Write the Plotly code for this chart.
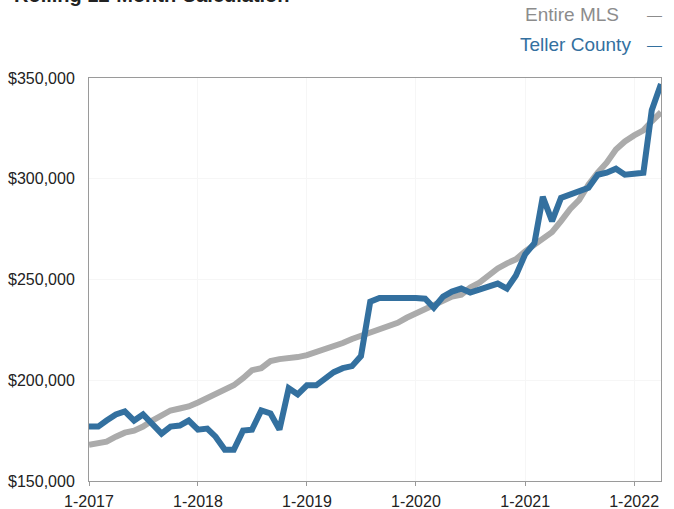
import pandas as pd
import plotly.graph_objects as go

# Monthly observation dates, Jan 2017 through Apr 2022
months = pd.date_range("2017-01-01", "2022-04-01", freq="MS")

# Rolling 12-month median sales price, Entire MLS (USD)
entire_mls = [
    168000, 168500, 169500, 172000, 174000, 175000, 177000, 180000, 182500, 185000, 186000, 187000,
    189000, 191000, 193000, 195500, 197500, 201000, 205000, 206000, 209500, 210500, 210800, 211500,
    212500, 214000, 215500, 216500, 218500, 220500, 222000, 224000, 225000, 226500, 228500, 231000,
    233000, 235500, 237500, 239500, 241500, 242500, 246000, 248500, 252500, 255500, 258000, 260000,
    264000, 267000, 270000, 273500, 279000, 285000, 289500, 297000, 303000, 308000, 314500, 318500,
    321500, 324000, 328500, 333000,
]

# Rolling 12-month median sales price, Teller County (USD)
teller_county = [
    177000, 177000, 180000, 183000, 184500, 180000, 183000, 178000, 173500, 177000, 177500, 180000,
    175500, 176000, 172000, 165500, 165500, 175000, 175500, 185000, 183500, 175500, 196000, 193000,
    197500, 197500, 201000, 204000, 206000, 207000, 212000, 239000, 240800, 241000, 241000, 240800,
    240800, 240500, 236000, 241500, 244000, 245500, 243500, 245000, 246000, 248000, 245500, 252000,
    262500, 268000, 291000, 279000, 290500, 292000, 293500, 295500, 302000, 303000, 305000, 302000,
    302500, 303000, 334000, 347000,
]

year_ticks = ["2017-01-01", "2018-01-01", "2019-01-01", "2020-01-01", "2021-01-01", "2022-01-01"]
year_labels = ["1-2017", "1-2018", "1-2019", "1-2020", "1-2021", "1-2022"]
price_ticks = [150000, 200000, 250000, 300000, 350000]
price_labels = ["$150,000", "$200,000", "$250,000", "$300,000", "$350,000"]

GRAY = "#ababab"
BLUE = "#33709f"
FONT = "Liberation Sans, Arial, sans-serif"
PLOT_W, PLOT_H = 572, 403

fig = go.Figure()
fig.add_trace(go.Scatter(
    x=months, y=entire_mls, mode="lines", name="Entire MLS",
    line=dict(color=GRAY, width=6), showlegend=False,
))
fig.add_trace(go.Scatter(
    x=months, y=teller_county, mode="lines", name="Teller County",
    line=dict(color=BLUE, width=6), showlegend=False,
))

fig.update_layout(
    width=674, height=509,
    margin=dict(l=89, r=13, t=78, b=28),
    paper_bgcolor="white", plot_bgcolor="white",
    font=dict(family=FONT, size=16, color="#222222"),
    xaxis=dict(
        range=["2017-01-01", "2022-04-01"],
        tickvals=year_ticks, ticktext=year_labels,
        showgrid=True, gridcolor="#f6f6f6", gridwidth=1,
        showline=True, linecolor="#9a9a9a", linewidth=1, mirror=True,
        ticks="outside", ticklen=4, tickcolor="#9a9a9a",
        ticklabelstandoff=2, zeroline=False, automargin=False,
    ),
    yaxis=dict(
        range=[150000, 350000],
        tickvals=price_ticks, ticktext=price_labels,
        showgrid=True, gridcolor="#f6f6f6", gridwidth=1,
        showline=True, linecolor="#9a9a9a", linewidth=1, mirror=True,
        ticks="", ticklabelstandoff=10, zeroline=False, automargin=False,
    ),
)

# Chart title, running off the top edge of the page
fig.add_annotation(
    text="<b>Rolling 12-Month Calculation</b>",
    xref="paper", yref="paper", x=-89 / PLOT_W + 12 / PLOT_W, y=1 + 70 / PLOT_H,
    xanchor="left", yanchor="bottom", showarrow=False,
    font=dict(family=FONT, size=20, color="#222222"),
)

# Legend entries, right aligned at the top: label text and a short line swatch
legend_items = [("Entire MLS", "#8c8c8c", 621, 15), ("Teller County", BLUE, 633, 44)]
for label, color, right_px, mid_px in legend_items:
    y_pos = 1 + (78 - mid_px) / PLOT_H
    fig.add_annotation(
        text=label, xref="paper", yref="paper",
        x=(right_px - 89) / PLOT_W, y=y_pos, xanchor="right", yanchor="middle",
        showarrow=False, font=dict(family=FONT, size=19, color=color),
    )
    fig.add_annotation(
        text="—", xref="paper", yref="paper",
        x=(654 - 89) / PLOT_W, y=y_pos, xanchor="center", yanchor="middle",
        showarrow=False, font=dict(family=FONT, size=15, color=color),
    )

fig.write_html("out.html")
